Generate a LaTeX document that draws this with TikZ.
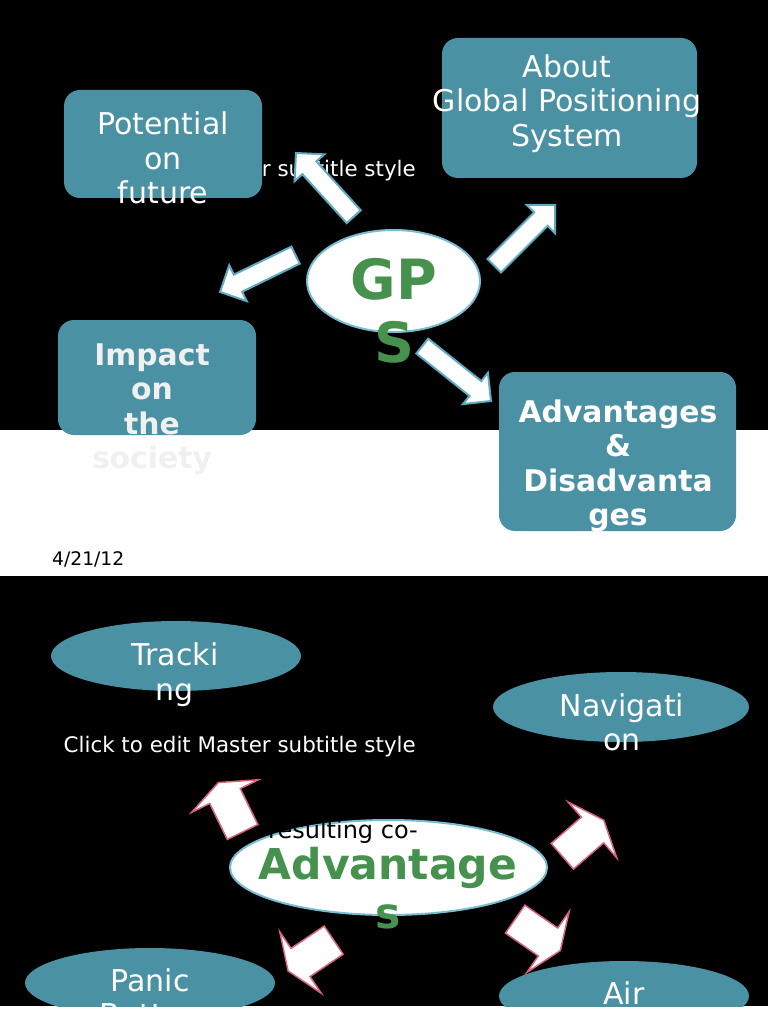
\documentclass[tikz,border=0pt]{standalone}
\usepackage{fontspec}
\setmainfont{DejaVu Sans}
\usetikzlibrary{shapes.geometric}
\definecolor{tealfill}{RGB}{74,145,164}
\definecolor{tealedge}{RGB}{95,170,192}
\definecolor{ringedge}{RGB}{120,188,210}
\definecolor{gpsgreen}{RGB}{70,145,78}
\definecolor{pinkedge}{RGB}{220,100,122}
\begin{document}
\begin{tikzpicture}[x=1pt,y=-1pt,
  tealbox/.style={fill=tealfill, rounded corners=16pt, inner sep=0pt},
  tealoval/.style={ellipse, fill=tealfill, inner sep=0pt},
  whiteoval/.style={ellipse, fill=white, draw=ringedge, line width=2pt, inner sep=0pt},
  boxtext/.style={text=white, align=center, inner sep=0pt, font=\fontsize{30}{34.5}\selectfont},
  boldtext/.style={text=white, align=center, inner sep=0pt, font=\bfseries\fontsize{29.8}{34.5}\selectfont},
  subtitle/.style={text=white, anchor=base east, inner sep=0pt, font=\fontsize{21.4}{25}\selectfont},
  pics/tealarr/.style={code={
    \draw[fill=white, draw=tealedge, line width=2pt]
      (-#1,-9.5) -- (0,-9.5) -- (0,-20) -- (20,0) -- (0,20) -- (0,9.5) -- (-#1,9.5) -- cycle;}},
  pics/pinkarr/.style={code={
    \draw[fill=white, draw=pinkedge, line width=1.5pt]
      (-40,-17) -- (0,-17) -- (0,-37) -- (#1,0) -- (0,37) -- (0,17) -- (-40,17) -- cycle;}}
]
\useasboundingbox (0,0) rectangle (768,1024);
\fill[white] (0,0) rectangle (768,1024);
% ---------- slide 1 ----------
\fill[black] (0,0) rectangle (768,430);
\node[subtitle] (sub1) at (416,177) {Click to edit Master subtitle style};

\node[tealbox, minimum width=198pt, minimum height=108pt] (potbox) at (163,144) {};
\node[boxtext] (pottext) at (163,158) {Potential\\on\\future};

\node[tealbox, minimum width=255pt, minimum height=140pt] (aboutbox) at (569.5,108) {};
\node[boxtext] (abouttext) at (567,103.5) {About\\Global Positioning\\System};

\node[tealbox, minimum width=198pt, minimum height=115pt] (impbox) at (157,377.5) {};
\node[boldtext, text=white!94!black] (imptext) at (152,409.5) {Impact\\on\\the\\society};

\node[tealbox, minimum width=237pt, minimum height=159pt] (advbox) at (617.5,451.5) {};
\node[boldtext] (advtext) at (618,466) {Advantages\\\&\\Disadvanta\\ges};

\node[whiteoval, minimum width=173pt, minimum height=102pt] (gps) at (393.5,281) {};
\pic[rotate=132.2] at (309.4,167.8) {tealarr=66};
\pic[rotate=206] at (238,283.2) {tealarr=64};
\pic[rotate=45] at (540.9,219.1) {tealarr=66};
\pic[rotate=-38.6] at (475.4,388.5) {tealarr=68};
\node[text=gpsgreen, align=center, inner sep=0pt, font=\bfseries\fontsize{55.5}{63}\selectfont] (gpstext) at (394,310.5) {GP\\S};

\node[anchor=base west, inner sep=0pt, font=\fontsize{18.7}{22}\selectfont] (date) at (52,565) {4/21/12};

% ---------- slide 2 ----------
\begin{scope}
\clip (0,576) rectangle (768,1006);
\fill[black] (0,576) rectangle (768,1006);
\node[subtitle] (sub2) at (416,752) {Click to edit Master subtitle style};

\node[tealoval, minimum width=250pt, minimum height=70pt] (track) at (176,656) {};
\node[boxtext] (tracktext) at (175,674.5) {Tracki\\ng};

\node[tealoval, minimum width=256pt, minimum height=70pt] (navi) at (621,707) {};
\node[boxtext] (navitext) at (622,722.5) {Navigati\\on};

\node[tealoval, minimum width=250pt, minimum height=70pt] (panic) at (150,983) {};
\node[boxtext] (panictext) at (150,997.5) {Panic\\Button};

\node[tealoval, minimum width=250pt, minimum height=70pt] (air) at (624,996) {};
\node[boxtext] (airtext) at (624,1013) {Air\\Navigation};

\pic[rotate=116] at (225,796) {pinkarr=15};
\pic[rotate=41] at (592.5,830) {pinkarr=15};
\pic[rotate=214] at (300.5,962.5) {pinkarr=15};
\pic[rotate=-34.8] at (548,942) {pinkarr=15};

\node[whiteoval, minimum width=317pt, minimum height=95pt] (adv) at (388.5,867.5) {};
\node[anchor=base east, inner sep=0pt, text=black, font=\fontsize{24}{28}\selectfont] (resulting) at (418,838) {resulting co-};
\node[text=gpsgreen, align=center, inner sep=0pt, font=\bfseries\fontsize{42.5}{49}\selectfont] (advlabel) at (388,888) {Advantage\\s};
\end{scope}
\end{tikzpicture}
\end{document}
